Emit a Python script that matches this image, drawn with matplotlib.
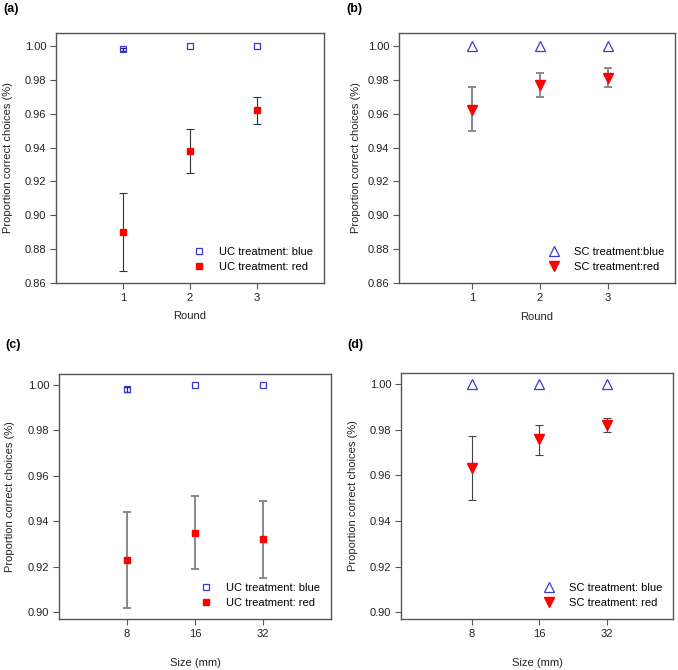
import matplotlib
matplotlib.use("Agg")
import matplotlib.pyplot as plt
import numpy as np

plt.rcParams['font.family'] = ['Liberation Sans', 'DejaVu Sans']

# Panel (a): UC treatment by round
rounds = ["1", "2", "3"]
a_blue = [0.998, 1.000, 1.000]
a_blue_lo = [0.997, 1.000, 1.000]
a_blue_hi = [0.999, 1.000, 1.000]
a_red = [0.890, 0.938, 0.962]
a_red_lo = [0.867, 0.925, 0.954]
a_red_hi = [0.913, 0.951, 0.970]

# Panel (b): SC treatment by round
b_blue = [1.000, 1.000, 1.000]
b_red = [0.962, 0.977, 0.981]
b_red_lo = [0.950, 0.970, 0.976]
b_red_hi = [0.976, 0.984, 0.987]

# Panel (c): UC treatment by size
sizes = ["8", "16", "32"]
c_blue = [0.998, 1.000, 1.000]
c_blue_lo = [0.997, 1.000, 1.000]
c_blue_hi = [0.999, 1.000, 1.000]
c_red = [0.923, 0.935, 0.932]
c_red_lo = [0.902, 0.919, 0.915]
c_red_hi = [0.944, 0.951, 0.949]

# Panel (d): SC treatment by size
d_blue = [1.000, 1.000, 1.000]
d_red = [0.963, 0.976, 0.982]
d_red_lo = [0.949, 0.969, 0.979]
d_red_hi = [0.977, 0.982, 0.985]

W, H = 678, 670
fig = plt.figure(figsize=(W / 100, H / 100), dpi=100)


def make_ax(l, r, t, b):
    return fig.add_axes([l / W, 1 - b / H, (r - l) / W, (b - t) / H])


BLUE = '#3a3ad0'
RED = '#ff0000'
spine_c = '#555555'
FS = 8


def style(ax, ylim, yticks, xlim, labels, xlabel, panel, pxy, ylab_x, xlab_pad):
    ax.set_xlim(*xlim)
    ax.set_ylim(*ylim)
    ax.set_yticks(yticks)
    ax.set_yticklabels([f"{v:.2f}" for v in yticks])
    ax.set_xticks([1, 2, 3])
    ax.set_xticklabels(labels)
    for s in ax.spines.values():
        s.set_color(spine_c)
        s.set_linewidth(1.0)
    ax.tick_params(direction='out', length=4, width=0.8, color=spine_c,
                   labelsize=FS, pad=3, labelcolor='#222222')
    ax.set_ylabel("Proportion correct choices (%)", fontsize=FS, color='#222222')
    ax.yaxis.set_label_coords(ylab_x, 0.5)
    ax.set_xlabel(xlabel, fontsize=FS, color='#222222', labelpad=xlab_pad)
    fig.text(pxy[0] / W, 1 - pxy[1] / H, panel, fontsize=9,
             fontweight='bold', va='center', ha='left')


def draw(ax, blue, blue_lo, blue_hi, red, red_lo, red_hi, bm, rm, bsz, rsz,
         ecol, elw, lab_b, lab_r):
    x = np.arange(1, 4)
    red = np.array(red)
    yerr = [red - np.array(red_lo), np.array(red_hi) - red]
    ax.errorbar(x, red, yerr=yerr, fmt='none', ecolor=ecol, elinewidth=elw,
                capsize=3, capthick=elw, zorder=2)
    if blue_lo is not None:
        blue_a = np.array(blue)
        lo = np.array(blue_lo)
        hi = np.array(blue_hi)
        m = hi > lo
        berr = [(blue_a - lo)[m], (hi - blue_a)[m]]
        ax.errorbar(x[m], blue_a[m], yerr=berr, fmt='none', ecolor='#202080',
                    elinewidth=0.8, capsize=2.5, zorder=2)
    ax.plot(x, blue, linestyle='none', marker=bm, markersize=bsz,
            markerfacecolor='none', markeredgecolor=BLUE, markeredgewidth=0.9,
            label=lab_b, zorder=3)
    ax.plot(x, red, linestyle='none', marker=rm, markersize=rsz,
            markerfacecolor=RED, markeredgecolor=RED, label=lab_r, zorder=3)
    ax.legend(loc='lower right', frameon=False, fontsize=FS, handletextpad=1.0,
              borderaxespad=0.6, labelspacing=0.45, handlelength=1.6)


ax_a = make_ax(56, 324, 33, 283)
draw(ax_a, a_blue, a_blue_lo, a_blue_hi, a_red, a_red_lo, a_red_hi,
     's', 's', 5, 5, '#333333', 0.8, "UC treatment: blue", "UC treatment: red")
style(ax_a, (0.86, 1.0077), np.arange(0.86, 1.001, 0.02), (0, 4), rounds,
      "Round", "(a)", (3, 9), -0.16, 6)

ax_b = make_ax(399, 675, 33, 283)
draw(ax_b, b_blue, None, None, b_red, b_red_lo, b_red_hi,
     '^', 'v', 7, 7, '#888888', 1.4, "SC treatment:blue", "SC treatment:red")
style(ax_b, (0.86, 1.0077), np.arange(0.86, 1.001, 0.02), (-0.08, 3.99), rounds,
      "Round", "(b)", (346, 9), -0.138, 7)

ax_c = make_ax(59, 331, 374, 619)
draw(ax_c, c_blue, c_blue_lo, c_blue_hi, c_red, c_red_lo, c_red_hi,
     's', 's', 5, 5, '#888888', 1.4, "UC treatment: blue", "UC treatment: red")
style(ax_c, (0.897, 1.0048), np.arange(0.90, 1.001, 0.02), (0, 4), sizes,
      "Size (mm)", "(c)", (5, 345), -0.162, 14)

ax_d = make_ax(401, 673, 373, 619)
draw(ax_d, d_blue, None, None, d_red, d_red_lo, d_red_hi,
     '^', 'v', 7, 7, '#444444', 0.8, "SC treatment: blue", "SC treatment: red")
style(ax_d, (0.897, 1.0048), np.arange(0.90, 1.001, 0.02), (-0.05, 3.98), sizes,
      "Size (mm)", "(d)", (347, 345), -0.158, 14)

fig.savefig("out.png", dpi=100)
